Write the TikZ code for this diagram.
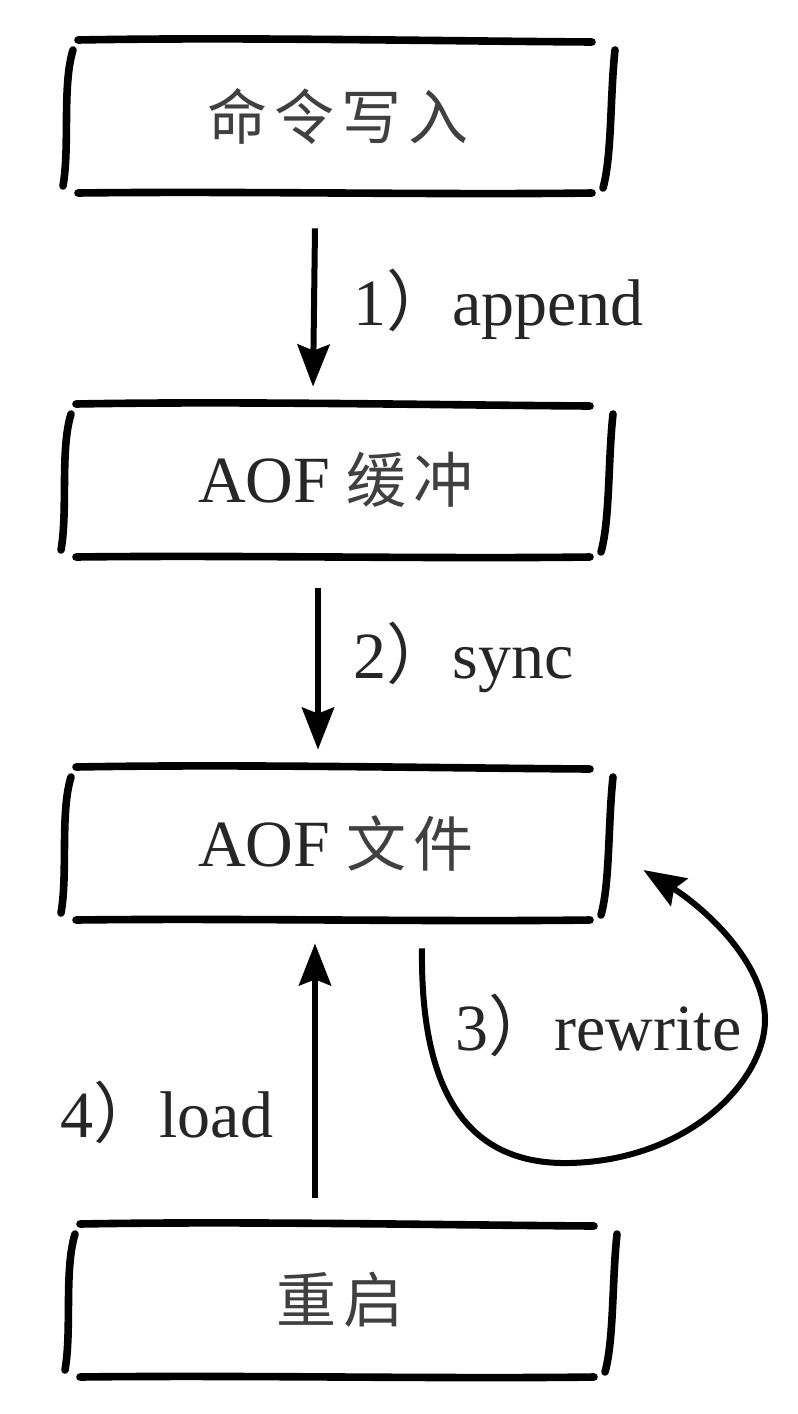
\documentclass[tikz,border=0pt]{standalone}
\usepackage{fontspec}
\setmainfont{Liberation Serif}
\newfontfamily\cjk[LetterSpace=12]{Noto Sans CJK SC}
\newfontfamily\cjkp{Noto Sans CJK SC}
\usetikzlibrary{calc,arrows.meta}
\newcommand\handbox[1]{%
  \begin{scope}[shift={(#1.center)}]
    \draw[hand] (-260,-76) .. controls (-100,-79) and (100,-75) .. (254,-74);
    \draw[hand] (-260,77) .. controls (-100,75) and (100,79) .. (254,77);
    \draw[hand] (-265,-66) .. controls (-276,-30) and (-268,30) .. (-275,70);
    \draw[hand] (277,-66) .. controls (272,-20) and (274,40) .. (265,72);
  \end{scope}}
\begin{document}
\begin{tikzpicture}[x=0.5pt,y=-0.5pt,
  hand/.style={line width=3.8pt,line cap=round},
  arr/.style={line width=3pt,-{Stealth[length=21pt,width=16pt,inset=3pt]}},
  boxnode/.style={rectangle,minimum width=270pt,minimum height=77pt,inner sep=0pt,
     font=\fontsize{33}{38}\selectfont,text=black!85},
  lbl/.style={anchor=base west,inner sep=0pt,font=\fontsize{33}{38}\selectfont,text=black!85}]
\fill[white] (0,0) rectangle (798,1414);
\useasboundingbox (0,0) rectangle (798,1414);
\node[boxnode] (b1) at (338,116) {{\cjk\fontsize{30}{36}\selectfont\color{black!75}命令写入}};
\node[boxnode] (b2) at (336,480) {AOF {\cjk\fontsize{30}{36}\selectfont\color{black!75}缓冲}};
\node[boxnode] (b3) at (336,843) {AOF {\cjk\fontsize{30}{36}\selectfont\color{black!75}文件}};
\node[boxnode] (b4) at (340,1300) {{\cjk\fontsize{30}{36}\selectfont\color{black!75}重启}};
\handbox{b1}
\handbox{b2}
\handbox{b3}
\handbox{b4}
\draw[arr] ($(b1.south)+(-23,35)$) -- ($(b2.north)+(-23,-16)$);
\draw[arr] ($(b2.south)+(-18,31)$) -- ($(b3.north)+(-18,-16)$);
\draw[arr] ($(b4.north)+(-25,-25)$) -- ($(b3.south)+(-21,23)$);
\draw[arr] ($(b3.south)+(86,28)$) .. controls (420,1110) and (480,1165) .. (570,1163)
   .. controls (690,1160) and (765,1080) .. (765,1020)
   .. controls (765,960) and (700,905) .. ($(b3.east)+(37,27)$);
\node[lbl] (l1) at (353,325) {1{\cjkp ）}append};
\node[lbl] (l2) at (353,678) {2{\cjkp ）}sync};
\node[lbl] (l3) at (455,1050) {3{\cjkp ）}rewrite};
\node[lbl] (l4) at (60,1137) {4{\cjkp ）}load};
\end{tikzpicture}
\end{document}
